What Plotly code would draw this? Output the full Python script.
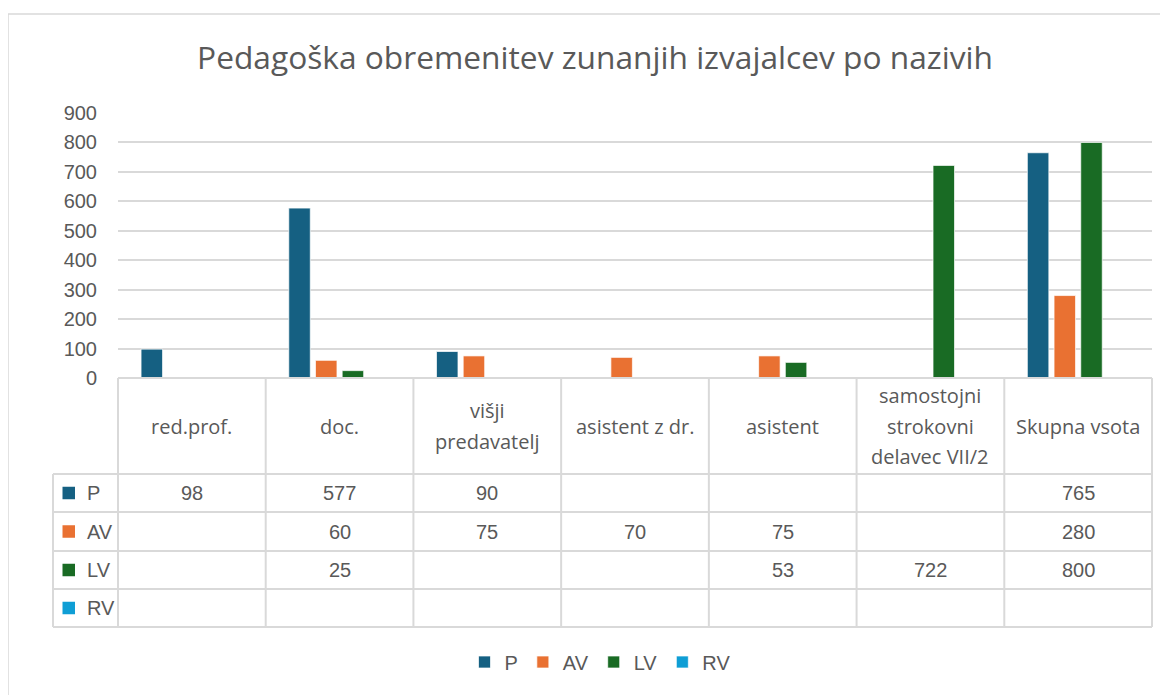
import plotly.graph_objects as go

# ---------------- data ----------------
categories = ["red.prof.", "doc.", "višji predavatelj", "asistent z dr.",
              "asistent", "samostojni strokovni delavec VII/2", "Skupna vsota"]
header_lines = [["red.prof."], ["doc."], ["višji", "predavatelj"], ["asistent z dr."],
                ["asistent"], ["samostojni", "strokovni", "delavec VII/2"], ["Skupna vsota"]]
series_names = ["P", "AV", "LV", "RV"]
P_values = [98, 577, 90, None, None, None, 765]
AV_values = [None, 60, 75, 70, 75, None, 280]
LV_values = [None, 25, None, None, 53, 722, 800]
RV_values = [None, None, None, None, None, None, None]
series_values = [P_values, AV_values, LV_values, RV_values]
series_colors = ["#156082", "#E97132", "#196B24", "#0F9ED5"]
y_ticks = [0, 100, 200, 300, 400, 500, 600, 700, 800, 900]
title_text = "Pedagoška obremenitev zunanjih izvajalcev po nazivih"

# ---------------- layout helpers ----------------
OFF = 8                      # page body margin of the browser
W, H = 1168 - OFF, 695 - OFF
def px(x):
    return (x - OFF) / W
def py(y):
    return 1 - (y - OFF) / H

FONT = "Liberation Sans, Arial, sans-serif"
FONT2 = "Open Sans, Liberation Sans, sans-serif"
TXT = "#595959"
GRID = "#d9d9d9"

x_dom = [px(118), px(1152)]
y_dom = [py(378), py(113)]
n = len(categories)

def col_edge(i):
    return x_dom[0] + i * (x_dom[1] - x_dom[0]) / n

def col_center(i):
    return x_dom[0] + (i + 0.5) * (x_dom[1] - x_dom[0]) / n

fig = go.Figure()
for name, vals, col in zip(series_names, series_values, series_colors):
    fig.add_trace(go.Bar(
        name=name, x=categories, y=vals,
        marker=dict(color=col, line=dict(color="rgba(255,255,255,0.7)", width=1)),
        showlegend=True,
    ))

# table geometry (pixel rows)
row_edges_px = [378, 474, 512, 551, 589, 627]
left_px = 53

shapes = []
line_style = dict(color=GRID, width=2)
for k, ypx in enumerate(row_edges_px):
    x0 = col_edge(0) if k == 0 else px(left_px)
    shapes.append(dict(type="line", xref="paper", yref="paper",
                       x0=x0, x1=col_edge(n), y0=py(ypx), y1=py(ypx), line=line_style))
for i in range(n + 1):
    shapes.append(dict(type="line", xref="paper", yref="paper",
                       x0=col_edge(i), x1=col_edge(i),
                       y0=py(row_edges_px[0]), y1=py(row_edges_px[-1]), line=line_style))
shapes.append(dict(type="line", xref="paper", yref="paper",
                   x0=px(left_px), x1=px(left_px),
                   y0=py(row_edges_px[1]), y1=py(row_edges_px[-1]), line=line_style))
# outer chart frame
shapes.append(dict(type="rect", xref="paper", yref="paper",
                   x0=px(8), x1=1.02, y0=py(14), y1=-0.02,
                   line=dict(color=GRID, width=1.5)))

annotations = []
hdr_mid = (row_edges_px[0] + row_edges_px[1]) / 2
line_h = 30.5
for i, lines in enumerate(header_lines):
    m = len(lines)
    for j, t in enumerate(lines):
        ycen = hdr_mid + (j - (m - 1) / 2) * line_h
        annotations.append(dict(text=t, xref="paper", yref="paper",
                                x=col_center(i), y=py(ycen), showarrow=False,
                                xanchor="center", yanchor="middle",
                                font=dict(family=FONT2, size=20, color=TXT)))
for r, (name, vals, col) in enumerate(zip(series_names, series_values, series_colors)):
    ycen = (row_edges_px[r + 1] + row_edges_px[r + 2]) / 2
    shapes.append(dict(type="rect", xref="paper", yref="paper",
                       x0=px(62.5), x1=px(75), y0=py(ycen - 6.25), y1=py(ycen + 6.25),
                       fillcolor=col, line=dict(width=0)))
    annotations.append(dict(text=name, xref="paper", yref="paper",
                            x=px(85), y=py(ycen), showarrow=False,
                            xanchor="left", yanchor="middle",
                            font=dict(family=FONT, size=20, color=TXT)))
    for i, v in enumerate(vals):
        if v is None:
            continue
        annotations.append(dict(text=str(v), xref="paper", yref="paper",
                                x=col_center(i), y=py(ycen), showarrow=False,
                                xanchor="center", yanchor="middle",
                                font=dict(family=FONT, size=20, color=TXT)))

fig.update_layout(
    width=W, height=H,
    margin=dict(l=0, r=0, t=0, b=0, autoexpand=False),
    paper_bgcolor="white", plot_bgcolor="white",
    title=dict(text=title_text, x=px(595), y=py(58), xanchor="center", yanchor="middle",
               xref="container", yref="container", automargin=False,
               font=dict(family=FONT2, size=31.7, color=TXT)),
    barmode="group", bargap=0.277, bargroupgap=0.195,
    xaxis=dict(domain=x_dom, showticklabels=False, showgrid=False, zeroline=False,
               showline=False, range=[-0.5, n - 0.5], fixedrange=True, automargin=False),
    yaxis=dict(domain=y_dom, range=[0, 900], tickvals=y_ticks, showgrid=True,
               gridcolor=GRID, gridwidth=2, zeroline=False, showline=False,
               ticklabelstandoff=20, automargin=False,
               tickfont=dict(family=FONT, size=20, color=TXT)),
    legend=dict(orientation="h", x=px(600), y=py(662), xanchor="center", yanchor="middle",
                xref="container", yref="container",
                font=dict(family=FONT, size=20, color=TXT), bgcolor="rgba(0,0,0,0)"),
    shapes=shapes, annotations=annotations,
)

fig.write_html("out.html")
